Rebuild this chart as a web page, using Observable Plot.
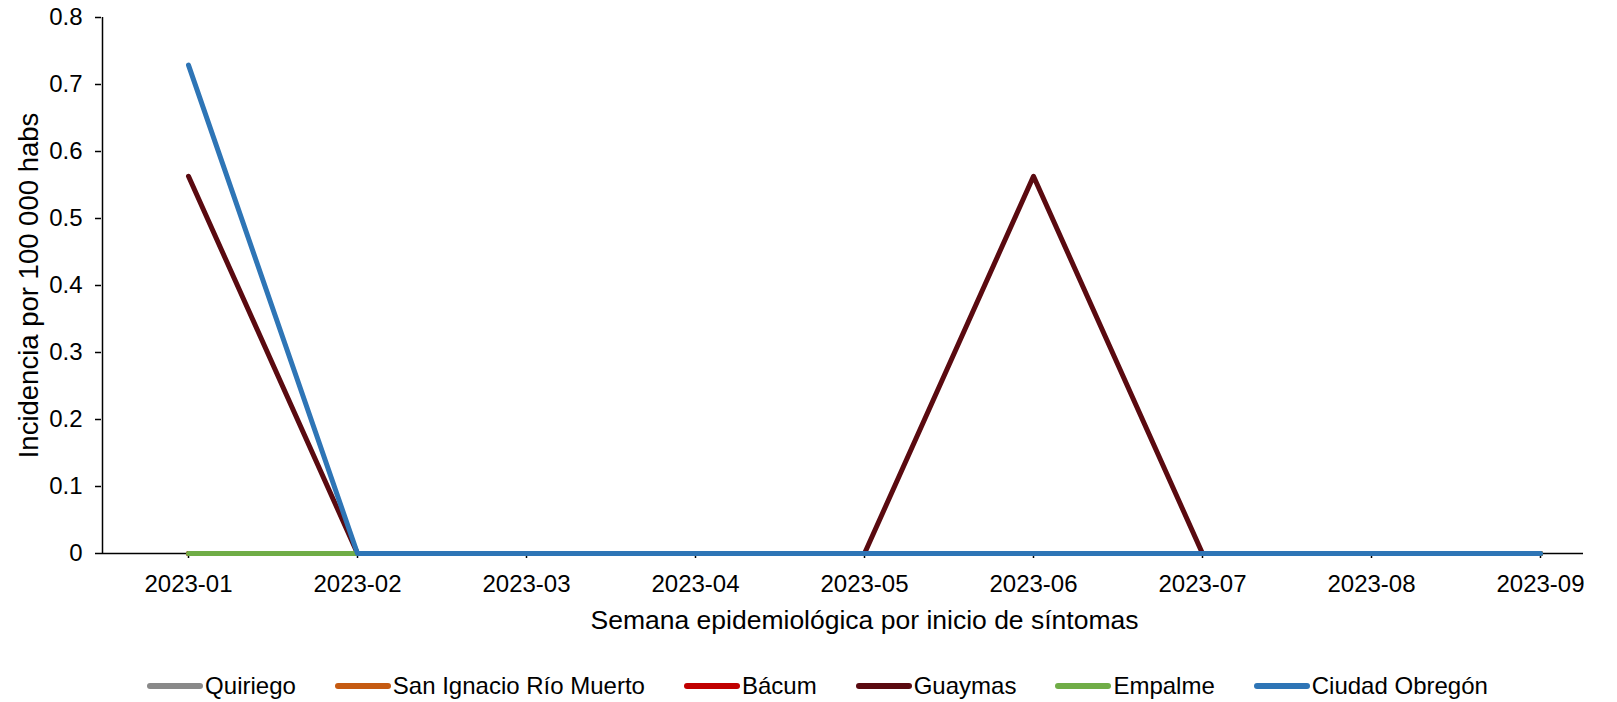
<!DOCTYPE html>
<html>
<head>
<meta charset="utf-8">
<script src="https://cdn.jsdelivr.net/npm/d3@7"></script>
<script src="https://cdn.jsdelivr.net/npm/@observablehq/plot@0.6"></script>
<style>
  html, body { margin: 0; padding: 0; background: #fff; }
  body { width: 1617px; height: 702px; overflow: hidden; font-family: "Liberation Sans", Arial, sans-serif; }
  #chart svg { display: block; }
  #legend { display: flex; justify-content: center; gap: 39px; margin-top: 33px; padding-left: 18px; font-size: 24px; color: #000; line-height: 26px; }
  .item { display: flex; align-items: center; }
  .sw { width: 56px; height: 6px; border-radius: 3px; margin-right: 2px; }
</style>
</head>
<body>
<div id="chart"></div>
<div id="legend"></div>
<script>
const weeks = ["2023-01","2023-02","2023-03","2023-04","2023-05","2023-06","2023-07","2023-08","2023-09"];
const seriesNames = ["Quiriego","San Ignacio Río Muerto","Bácum","Guaymas","Empalme","Ciudad Obregón"];
const seriesColors = ["#898989","#c55a11","#c00000","#5a0a10","#70ad47","#2e75b6"];
const quiriego     = [0,0,0,0,0,0,0,0,0];
const sanIgnacio   = [0,0,0,0,0,0,0,0,0];
const bacum        = [0,0,0,0,0,0,0,0,0];
const guaymas      = [0.563,0,0,0,0,0.563,0,0,0];
const empalme      = [0,0,0,0,0,0,0,0,0];
const ciudadObregon= [0.729,0,0,0,0,0,0,0,0];
const yTicks = [0,0.1,0.2,0.3,0.4,0.5,0.6,0.7,0.8];

const seriesValues = [quiriego, sanIgnacio, bacum, guaymas, empalme, ciudadObregon];
const rows = [];
seriesNames.forEach((name, si) => {
  seriesValues[si].forEach((v, i) => rows.push({serie: name, week: weeks[i], value: v}));
});

const chart = Plot.plot({
  width: 1617,
  height: 640,
  marginLeft: 101,
  marginRight: 34,
  marginTop: 17,
  marginBottom: 87,
  style: { fontFamily: "Liberation Sans, Arial, sans-serif", fontSize: "24px", color: "#000", background: "#fff" },
  x: { type: "point", domain: weeks, range: [187, 1541], padding: 0 },
  y: { domain: [0, 0.8] },
  color: { domain: seriesNames, range: seriesColors },
  marks: [
    Plot.axisY({ ticks: yTicks, tickFormat: d => String(d), tickSize: 6, tickPadding: 13, label: null, fontSize: 24, strokeWidth: 1.5 }),
    Plot.axisX({ tickSize: 5, tickPadding: 16, label: null, fontSize: 24, strokeWidth: 1.5 }),
    Plot.ruleX([weeks[0]], { dx: -86, y1: 0, y2: 0.8, stroke: "#000", strokeWidth: 1.5 }),
    Plot.ruleY([0], { stroke: "#000", strokeWidth: 1.5 }),
    ...seriesNames.map(name =>
      Plot.line(rows.filter(r => r.serie === name), {
        x: "week", y: "value", stroke: d => d.serie, strokeWidth: 5,
        strokeLinecap: "round", strokeLinejoin: "round"
      })
    ),
    Plot.text(["Semana epidemiológica por inicio de síntomas"], {
      frameAnchor: "bottom", dx: 22, dy: 75, fontSize: 26.5, fill: "#000"
    }),
    Plot.text(["Incidencia por 100 000 habs"], {
      frameAnchor: "left", textAnchor: "middle", dx: -72, rotate: -90, fontSize: 27.5, fill: "#000"
    })
  ]
});
document.getElementById("chart").appendChild(chart);

const legend = document.getElementById("legend");
seriesNames.forEach((name, i) => {
  const it = document.createElement("div");
  it.className = "item";
  const sw = document.createElement("span");
  sw.className = "sw";
  sw.style.background = seriesColors[i];
  const tx = document.createElement("span");
  tx.textContent = name;
  it.appendChild(sw); it.appendChild(tx);
  legend.appendChild(it);
});
</script>
</body>
</html>
